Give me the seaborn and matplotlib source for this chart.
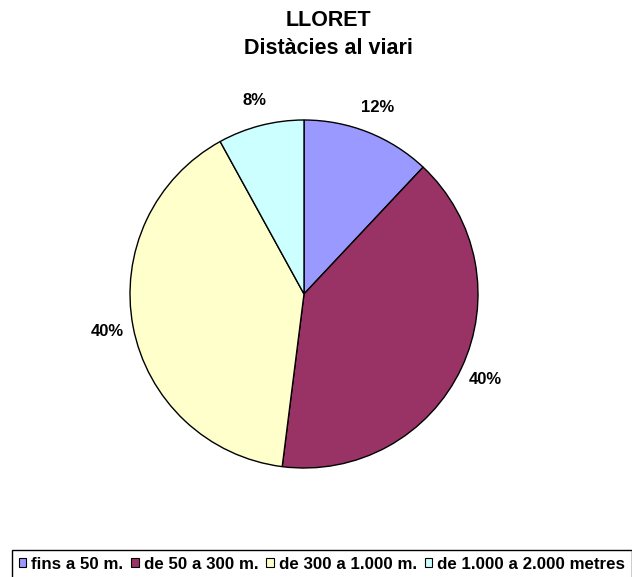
#!/usr/bin/env python3
"""Pie chart: LLORET - Distàcies al viari."""

import matplotlib
matplotlib.use("Agg")
import matplotlib.pyplot as plt
import matplotlib.patches as mpatches
import seaborn as sns

categories = ["fins a 50 m.", "de 50 a 300 m.", "de 300 a 1.000 m.", "de 1.000 a 2.000 metres"]
shares = [12, 40, 40, 8]
colors = ["#9999FF", "#993366", "#FFFFCC", "#CCFFFF"]

W, H = 632, 577
R = 174.0          # pie radius in px
CX, CY = 304, 294  # pie centre in px (from top)


def main() -> None:
    sns.set_theme(style="white")
    plt.rcParams["font.family"] = ["Liberation Sans", "DejaVu Sans"]
    plt.rcParams["text.color"] = "black"

    fig = plt.figure(figsize=(W / 100, H / 100), dpi=100)
    fig.patch.set_facecolor("white")

    half = 1.5 * R
    ax = fig.add_axes([(CX - half) / W, (H - CY - half) / H, 2 * half / W, 2 * half / H])
    ax.pie(
        shares,
        colors=colors,
        startangle=90,
        counterclock=False,
        radius=1.0,
        autopct="%1.0f%%",
        pctdistance=1.15,
        wedgeprops=dict(edgecolor="black", linewidth=1.0),
        textprops=dict(fontsize=12, fontweight="bold", color="black"),
    )
    ax.set_xlim(-1.5, 1.5)
    ax.set_ylim(-1.5, 1.5)
    ax.set_aspect("equal")
    ax.axis("off")

    fig.text(328 / W, 1 - 20 / H, "LLORET", ha="center", va="center",
             fontsize=15.5, fontweight="bold", color="black")
    fig.text(328 / W, 1 - 48 / H, "Distàcies al viari", ha="center", va="center",
             fontsize=15.5, fontweight="bold", color="black")

    handles = [mpatches.Patch(facecolor=c, edgecolor="black", linewidth=0.8) for c in colors]
    leg = fig.legend(
        handles, categories,
        loc="upper left",
        bbox_to_anchor=(12 / W, 1 - 550 / H),
        ncol=4,
        frameon=True,
        fancybox=False,
        borderaxespad=0,
        borderpad=0.4,
        handlelength=0.45,
        handleheight=0.45,
        handletextpad=0.3,
        columnspacing=0.45,
        prop=dict(size=12.2, weight="bold"),
    )
    for t in leg.get_texts():
        t.set_color("black")
    leg.get_frame().set_edgecolor("black")
    leg.get_frame().set_linewidth(1.0)
    leg.get_frame().set_alpha(1)

    fig.savefig("out.png", dpi=100)
    plt.close(fig)


if __name__ == "__main__":
    main()
